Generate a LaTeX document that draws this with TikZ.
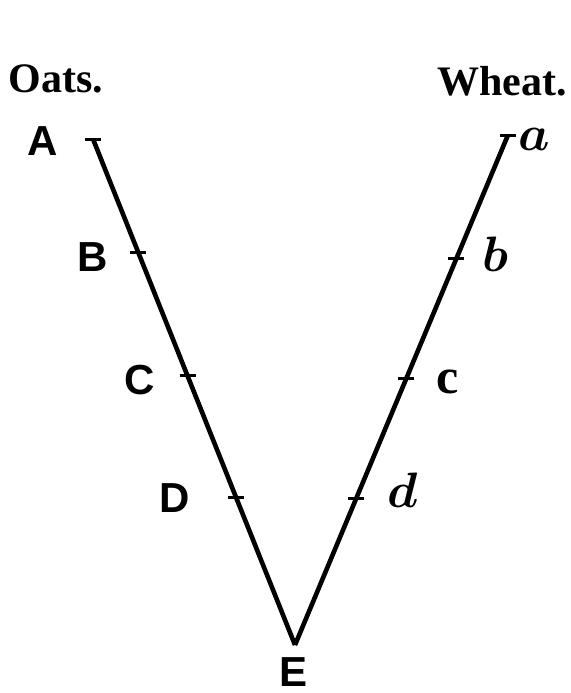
\documentclass[tikz,border=0pt]{standalone}
\usepackage{fontspec}
\newfontfamily\headfont{Liberation Serif}
\newfontfamily\capfont{Liberation Sans}
\usetikzlibrary{positioning}

\begin{document}
\begin{tikzpicture}[
    x=0.5pt,y=-0.5pt,
    heading/.style={font=\headfont\bfseries\fontsize{21}{21}\selectfont,inner sep=0pt},
    capital/.style={font=\capfont\bfseries\fontsize{21}{21}\selectfont,inner sep=0pt},
    lower/.style={font=\boldmath\fontsize{30}{30}\selectfont,inner sep=0pt},
    stroke/.style={line width=2.3pt,line join=miter},
    tickmark/.style={line width=1.5pt}
]
\useasboundingbox (0,0) rectangle (570,693);
% headings
\node[heading] (oats) at (56,79) {Oats.};
\node[heading] (wheat) at (502,81) {Wheat.};
% the two scales meeting at E
\coordinate (top-oats) at (93,139);
\coordinate (top-wheat) at (508,135);
\coordinate (vertex) at (295,645);
\draw[stroke] (top-oats) -- (vertex)
    coordinate[pos=0.225] (tB) coordinate[pos=0.468] (tC) coordinate[pos=0.709] (tD);
\draw[stroke] (top-wheat) -- (vertex)
    coordinate[pos=0.243] (tb) coordinate[pos=0.478] (tc) coordinate[pos=0.712] (td);
% ticks
\foreach \p in {top-oats,tB,tC,tD,top-wheat,tb,tc,td}
    \draw[tickmark] (\p) ++(-8,0) -- ++(16,0);
% letters, oats side
\node[capital] (A) at (43,141) {A};
\node[capital] (B) at (93,257) {B};
\node[capital] (C) at (140,380) {C};
\node[capital] (D) at (175,498) {D};
\node[capital] (E) at (294,672) {E};
% letters, wheat side
\node[lower,font=\boldmath\fontsize{26}{26}\selectfont] (a) at (534,139) {$a$};
\node[lower] (b) at (495,254) {$b$};
\node[lower,font=\headfont\bfseries\fontsize{25}{25}\selectfont] (c) at (448,382) {c};
\node[lower] (d) at (403,490) {$d$};
\end{tikzpicture}
\end{document}
